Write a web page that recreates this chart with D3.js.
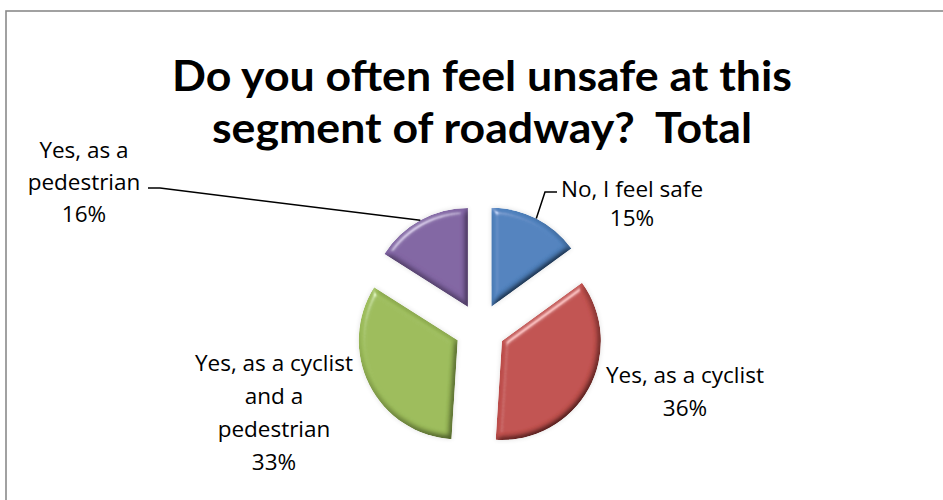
<!DOCTYPE html>
<html>
<head>
<meta charset="utf-8">
<script src="https://cdn.jsdelivr.net/npm/d3@7"></script>
<style>
  html, body { margin: 0; padding: 0; background: #fff; }
  svg { display: block; }
  text { fill: #000; white-space: pre; }
</style>
</head>
<body>
<svg id="chart" width="943" height="500"></svg>
<script>
// ---- data ----
const titleLines = ["Do you often feel unsafe at this", "segment of roadway?  Total"];
const categories = ["No, I feel safe", "Yes, as a cyclist", "Yes, as a cyclist and a pedestrian", "Yes, as a pedestrian"];
const values = [15, 36, 33, 16];
const percentLabels = ["15%", "36%", "33%", "16%"];
const labelLines = [
  ["No, I feel safe"],
  ["Yes, as a cyclist"],
  ["Yes, as a cyclist", "and a", "pedestrian"],
  ["Yes, as a", "pedestrian"]
];
const colors = ["#4F81BD", "#C0504D", "#9BBB59", "#8064A2"];

// ---- drawing ----
const svg = d3.select("#chart");
const W = 943, H = 500;

svg.append("rect").attr("x", 0).attr("y", 0).attr("width", W).attr("height", H).attr("fill", "#fff");
svg.append("rect").attr("x", 6).attr("y", 11).attr("width", W + 20).attr("height", H + 20)
  .attr("fill", "none").attr("stroke", "#8a8a8a").attr("stroke-width", 1.6);

const defs = svg.append("defs");
const f = defs.append("filter").attr("id", "bevel").attr("x", "-20%").attr("y", "-20%").attr("width", "140%").attr("height", "140%");
f.append("feGaussianBlur").attr("in", "SourceAlpha").attr("stdDeviation", 3).attr("result", "blur");
const spec = f.append("feSpecularLighting").attr("in", "blur").attr("surfaceScale", 5)
  .attr("specularConstant", 0.8).attr("specularExponent", 30).attr("lighting-color", "#ffffff").attr("result", "spec");
spec.append("feDistantLight").attr("azimuth", 235).attr("elevation", 35);
f.append("feComposite").attr("in", "spec").attr("in2", "SourceAlpha").attr("operator", "in").attr("result", "specIn");
const diff = f.append("feDiffuseLighting").attr("in", "blur").attr("surfaceScale", 5)
  .attr("diffuseConstant", 1.16).attr("lighting-color", "#ffffff").attr("result", "diff");
diff.append("feDistantLight").attr("azimuth", 235).attr("elevation", 60);
f.append("feComposite").attr("in", "SourceGraphic").attr("in2", "diff").attr("operator", "arithmetic")
  .attr("k1", 1).attr("k2", 0).attr("k3", 0).attr("k4", 0).attr("result", "lit");
f.append("feComposite").attr("in", "lit").attr("in2", "specIn").attr("operator", "arithmetic")
  .attr("k1", 0).attr("k2", 1).attr("k3", 0.5).attr("k4", 0).attr("result", "lit2");
f.append("feComposite").attr("in", "lit2").attr("in2", "SourceAlpha").attr("operator", "in").attr("result", "final");
f.append("feGaussianBlur").attr("in", "SourceAlpha").attr("stdDeviation", 2.5).attr("result", "sh");
f.append("feComponentTransfer").attr("in", "sh").attr("result", "sh2")
  .append("feFuncA").attr("type", "linear").attr("slope", 0.12);
const mg = f.append("feMerge");
mg.append("feMergeNode").attr("in", "sh2");
mg.append("feMergeNode").attr("in", "final");

// title
const title = svg.append("text").attr("text-anchor", "middle").attr("font-weight", "bold")
  .attr("font-family", "Lato, 'Open Sans', sans-serif").attr("font-size", 42);
title.selectAll("tspan").data(titleLines).join("tspan")
  .attr("x", 482).attr("y", (d, i) => 91 + i * 52)
  .attr("textLength", (d, i) => i === 0 ? 620 : 540)
  .attr("lengthAdjust", "spacingAndGlyphs")
  .text(d => d);

// pie
const cx = 480, cy = 329, R = 99, explode = 25;
const pie = d3.pie().sort(null).value(d => d)(values);
const arc = d3.arc().innerRadius(0).outerRadius(R);
const g = svg.append("g").attr("transform", `translate(${cx},${cy})`);

function offset(d) {
  const a = (d.startAngle + d.endAngle) / 2;
  return [explode * Math.sin(a), -explode * Math.cos(a)];
}
function rimPoint(d) {
  const a = (d.startAngle + d.endAngle) / 2;
  const o = offset(d);
  return [cx + o[0] + R * Math.sin(a), cy + o[1] - R * Math.cos(a)];
}

g.selectAll("path.slice").data(pie).join("path")
  .attr("class", "slice")
  .attr("transform", d => `translate(${offset(d)[0]},${offset(d)[1]})`)
  .attr("d", arc)
  .attr("fill", (d, i) => colors[i])
  .attr("filter", "url(#bevel)");

// labels
const labelPos = [
  { x: 632, y: 197, dy: 29, leader: [[557, 192], [545, 192]] },
  { x: 685, y: 383, dy: 33, leader: null },
  { x: 274, y: 371, dy: 33, leader: null },
  { x: 84, y: 158, dy: 32, leader: [[148, 188], [160, 188]] }
];
const lineGen = d3.line();
pie.forEach((d, i) => {
  const p = labelPos[i];
  const lines = labelLines[i].concat([percentLabels[i]]);
  const t = svg.append("text").attr("text-anchor", "middle")
    .attr("font-family", "'Open Sans', Lato, sans-serif").attr("font-size", 22.5);
  t.selectAll("tspan").data(lines).join("tspan")
    .attr("x", p.x).attr("y", (dd, j) => p.y + j * p.dy)
    .text(dd => dd);
  if (p.leader) {
    const pts = [p.leader[0], p.leader[1], rimPoint(d)];
    svg.append("path").attr("d", lineGen(pts)).attr("fill", "none")
      .attr("stroke", "#000").attr("stroke-width", 1.5);
  }
});
</script>
</body>
</html>
